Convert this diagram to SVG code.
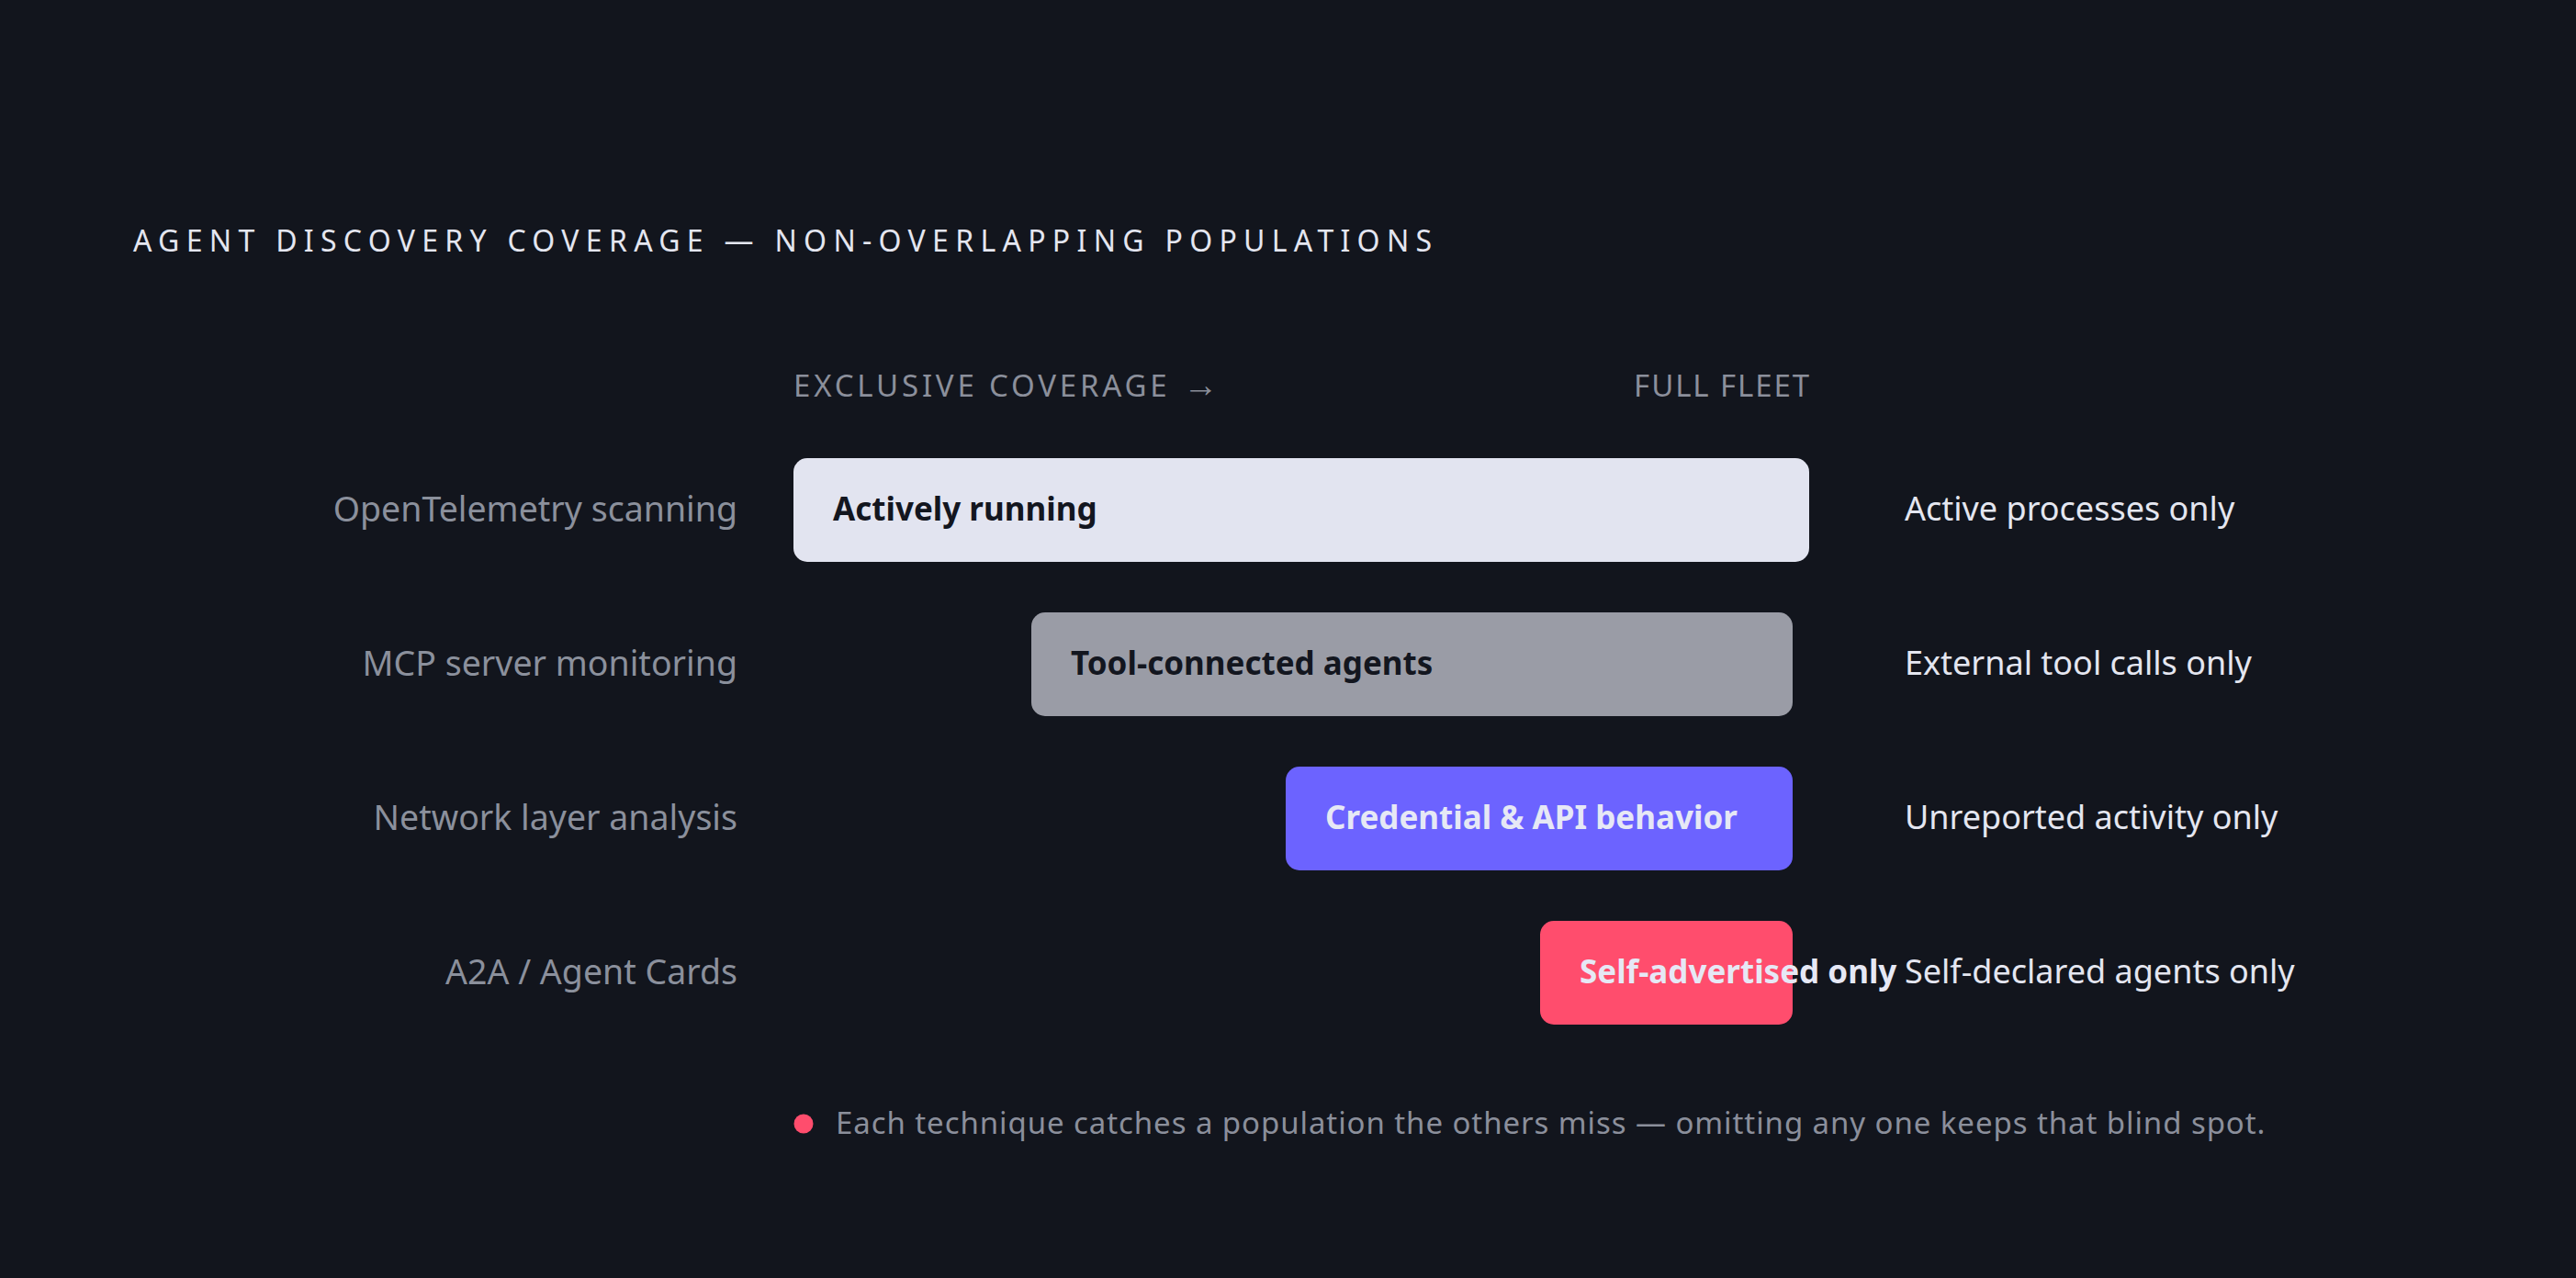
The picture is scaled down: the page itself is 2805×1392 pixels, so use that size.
<svg xmlns="http://www.w3.org/2000/svg" width="2805" height="1392" viewBox="0 0 2805 1392">
<style>
text{font-family:"Noto Sans","Liberation Sans",sans-serif}
.title{font-size:32px;fill:#e4e6f0;letter-spacing:7.3px}
.axis{font-size:33px;fill:#8b8f9b;letter-spacing:3.8px}
.axis.end{text-anchor:end;letter-spacing:1.9px}
.left{font-size:37.5px;fill:#8b909c;text-anchor:end}
.right{font-size:36px;fill:#e4e6f0}
.bar{font-size:35px;font-weight:700}
.dark{fill:#13161f}
.light{fill:#e6e8f5}
.foot{font-size:33px;fill:#8b8f9b;letter-spacing:0.92px}
</style>
<rect x="0" y="0" width="2805" height="1392" fill="#12151d"/>
<text class="title" x="145" y="274">AGENT DISCOVERY COVERAGE — NON-OVERLAPPING POPULATIONS</text>
<g id="axis">
<text class="axis" x="864" y="432">EXCLUSIVE COVERAGE<tspan font-size="38"> →</tspan></text>
<text class="axis end" x="1972" y="432">FULL FLEET</text>
</g>
<g id="row-otel">
<text class="left" x="803" y="568">OpenTelemetry scanning</text>
<rect x="864" y="499" width="1106" height="113" rx="15" fill="#e2e4f0"/>
<text class="bar dark" x="907" y="567">Actively running</text>
<text class="right" x="2074" y="567">Active processes only</text>
</g>
<g id="row-mcp">
<text class="left" x="803" y="736">MCP server monitoring</text>
<rect x="1123" y="667" width="829" height="113" rx="15" fill="#9a9ca6"/>
<text class="bar dark" x="1166" y="735">Tool-connected agents</text>
<text class="right" x="2074" y="735">External tool calls only</text>
</g>
<g id="row-network">
<text class="left" x="803" y="904">Network layer analysis</text>
<rect x="1400" y="835" width="552" height="113" rx="15" fill="#6c63ff"/>
<text class="bar light" x="1443" y="903">Credential &amp; API behavior</text>
<text class="right" x="2074" y="903">Unreported activity only</text>
</g>
<g id="row-a2a">
<text class="left" x="803" y="1072">A2A / Agent Cards</text>
<rect x="1677" y="1003" width="275" height="113" rx="15" fill="#ff4d6d"/>
<text class="bar light" x="1720" y="1071">Self-advertised only</text>
<text class="right" x="2074" y="1071">Self-declared agents only</text>
</g>
<g id="connectors"></g>
<g id="footer">
<circle cx="875" cy="1224" r="10.5" fill="#ff4d6d"/>
<text class="foot" x="910" y="1235">Each technique catches a population the others miss — omitting any one keeps that blind spot.</text>
</g>
</svg>
